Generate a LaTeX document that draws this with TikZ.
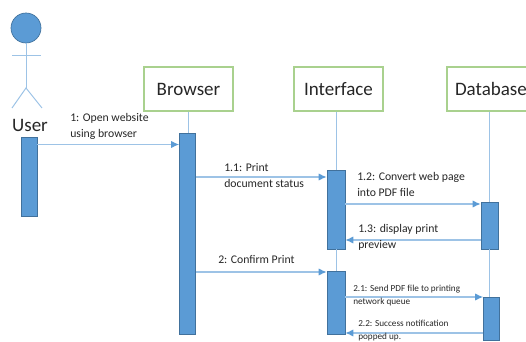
\documentclass[tikz,border=0pt]{standalone}
\usepackage{fontspec}
\setmainfont{Carlito}
\definecolor{barblue}{HTML}{5B9BD5}
\definecolor{baredge}{HTML}{41719C}
\definecolor{lineblue}{HTML}{9DC3E6}
\definecolor{boxgreen}{HTML}{A9D18E}
\definecolor{inkgrey}{HTML}{262626}
\usetikzlibrary{arrows.meta}
\tikzset{
  lifebox/.style={draw=boxgreen, line width=1pt, fill=white, inner sep=0pt, minimum height=33pt,
    text=inkgrey, font=\fontsize{14.25}{16}\selectfont},
  bar/.style={draw=baredge, line width=0.5pt, fill=barblue, inner sep=0pt, minimum width=#1*0.75pt},
  bar/.default=16,
  lifeline/.style={draw=lineblue, line width=0.75pt},
  msg/.style={draw=lineblue, line width=0.9pt, -{Latex[length=6pt,width=5.5pt,color=barblue]}},
  msglabel/.style={anchor=north west, inner sep=0pt, align=left, text=inkgrey, font=\fontsize{8.8}{12}\selectfont},
  msgsmall/.style={msglabel, font=\fontsize{6.9}{10}\selectfont}
}
\begin{document}
\begin{tikzpicture}[x=0.75pt,y=-0.75pt]
  \useasboundingbox (0,0) rectangle (526,342);

  % Actor
  \node[circle, draw=baredge, line width=0.5pt, fill=barblue, minimum size=22.5pt, inner sep=0pt] (head) at (26,28) {};
  \coordinate (hip) at (26,88);
  \coordinate (armL) at (12,56);
  \coordinate (armR) at (41,56);
  \coordinate (footL) at (12,108);
  \coordinate (footR) at (42,108);
  \draw[lifeline] (head) -- (hip);
  \draw[lifeline] (armL) -- (armR);
  \draw[lifeline] (footL) -- (hip) -- (footR);
  \node[inner sep=0pt, text=inkgrey, font=\fontsize{14.25}{16}\selectfont] (user) at (30,125) {User};

  % Object boxes
  \node[lifebox, minimum width=66.75pt] (browser) at (188.5,89) {Browser};
  \node[lifebox, minimum width=66.75pt] (interface) at (338.5,89) {Interface};
  \node[lifebox, minimum width=72pt, text width=60pt, align=left] (database) at (495,89) {Database};

  % Activation bars
  \node[bar=16, minimum height=59.25pt] (userbar) at (29,176.5) {};
  \node[bar=16, minimum height=150.75pt] (browserbar) at (187.5,233.5) {};
  \node[bar=18, minimum height=59.25pt] (ifacebarA) at (336,209.5) {};
  \node[bar=18, minimum height=47.25pt] (ifacebarB) at (336,302.5) {};
  \node[bar=17, minimum height=35.25pt] (dbbarA) at (489.5,225.5) {};
  \node[bar=16, minimum height=32.25pt] (dbbarB) at (491.5,318.5) {};

  % Lifelines
  \draw[lifeline] (browser.south) -- (browserbar.north -| browser.south);
  \draw[lifeline] (interface.south -| ifacebarA.north) -- (ifacebarA.north);
  \draw[lifeline] (ifacebarA) -- (ifacebarB);
  \draw[lifeline] (database.south -| dbbarA.north) -- (dbbarA.north);
  \draw[lifeline] (dbbarA.south) -- (dbbarA.south |- dbbarB.north);

  % Messages
  \draw[msg] (userbar.east |- 0,144.5) -- (browserbar.west |- 0,144.5);
  \draw[msg] (browserbar.east |- 0,177) -- (ifacebarA.west |- 0,177);
  \draw[msg] (ifacebarA.east |- 0,204) -- (dbbarA.west |- 0,204);
  \draw[msg] (dbbarA.west |- 0,240) -- (ifacebarA.east |- 0,240);
  \draw[msg] (browserbar.east |- 0,272) -- (ifacebarB.west |- 0,272);
  \draw[msg] (ifacebarB.east |- 0,297) -- (dbbarB.west |- 0,297);
  \draw[msg] (dbbarB.west |- 0,333) -- (ifacebarB.east |- 0,333);

  % Message labels
  \node[msglabel] (open) at (70,113) {1: Open website\\using browser};
  \node[msglabel] (status) at (224,163) {1.1: Print\\document status};
  \node[msglabel] (convert) at (357,172) {1.2: Convert web page\\into PDF file};
  \node[msglabel] (preview) at (358,224) {1.3: display print\\preview};
  \node[msglabel] (confirm) at (218,255) {2: Confirm Print};
  \node[msgsmall] (send) at (353,285) {2.1: Send PDF file to printing\\network queue};
  \node[msgsmall] (success) at (358,320) {2.2: Success notification\\popped up.};
\end{tikzpicture}
\end{document}
